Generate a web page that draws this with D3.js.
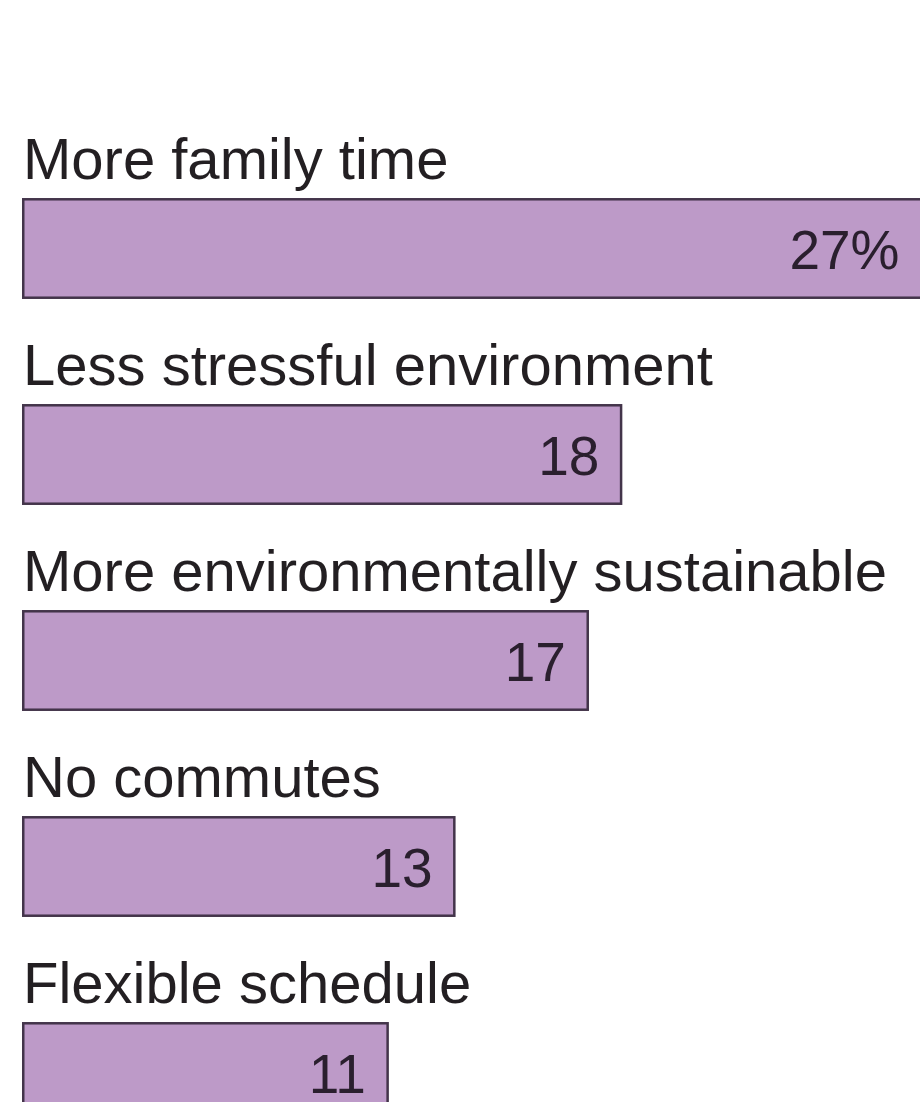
<!DOCTYPE html>
<html>
<head>
<meta charset="utf-8">
<script src="https://cdn.jsdelivr.net/npm/d3@7"></script>
<style>
  html, body { margin: 0; padding: 0; background: #ffffff; }
  svg { display: block; }
</style>
</head>
<body>
<svg id="chart" width="920" height="1102"></svg>
<script>
// Reasons for preferring remote work, share of respondents (%)
const categories = [
  "More family time",
  "Less stressful environment",
  "More environmentally sustainable",
  "No commutes",
  "Flexible schedule"
];
const values = [27, 18, 17, 13, 11];
const valueLabels = ["27%", "18", "17", "13", "11"];

const W = 920, H = 1102;
const left = 22;
const step = 206;
const top0 = 145.5;

const svg = d3.select("#chart");

const x = d3.scaleLinear().domain([0, 27]).range([left, left + 900.5]);
const y = d3.scaleBand()
  .domain(categories)
  .range([top0, top0 + categories.length * step])
  .paddingInner(0.51)
  .paddingOuter(0.255);

const rows = categories.map((c, i) => ({ cat: c, value: values[i], label: valueLabels[i] }));

const g = svg.append("g");

// bars
g.selectAll("rect.bar")
  .data(rows)
  .join("rect")
  .attr("class", "bar")
  .attr("x", x(0) + 1.25)
  .attr("y", d => y(d.cat) + 1.25)
  .attr("width", d => x(d.value) - x(0) - 2.5)
  .attr("height", y.bandwidth() - 2.5)
  .attr("fill", "#bd9ac8")
  .attr("stroke", "#43344a")
  .attr("stroke-width", 2.5);

// category labels above each bar
g.selectAll("text.cat")
  .data(rows)
  .join("text")
  .attr("class", "cat")
  .attr("x", left + 1)
  .attr("y", d => y(d.cat) - 19)
  .attr("font-family", "'Liberation Sans', Arial, Helvetica, sans-serif")
  .attr("font-size", 58)
  .attr("fill", "#231f22")
  .text(d => d.cat);

// value labels inside the bar ends
g.selectAll("text.val")
  .data(rows)
  .join("text")
  .attr("class", "val")
  .attr("x", d => x(d.value) - 23)
  .attr("y", d => y(d.cat) + y.bandwidth() / 2 + 20)
  .attr("text-anchor", "end")
  .attr("font-family", "'Liberation Sans', Arial, Helvetica, sans-serif")
  .attr("font-size", 55)
  .attr("fill", "#2a1f2e")
  .text(d => d.label);
</script>
</body>
</html>
